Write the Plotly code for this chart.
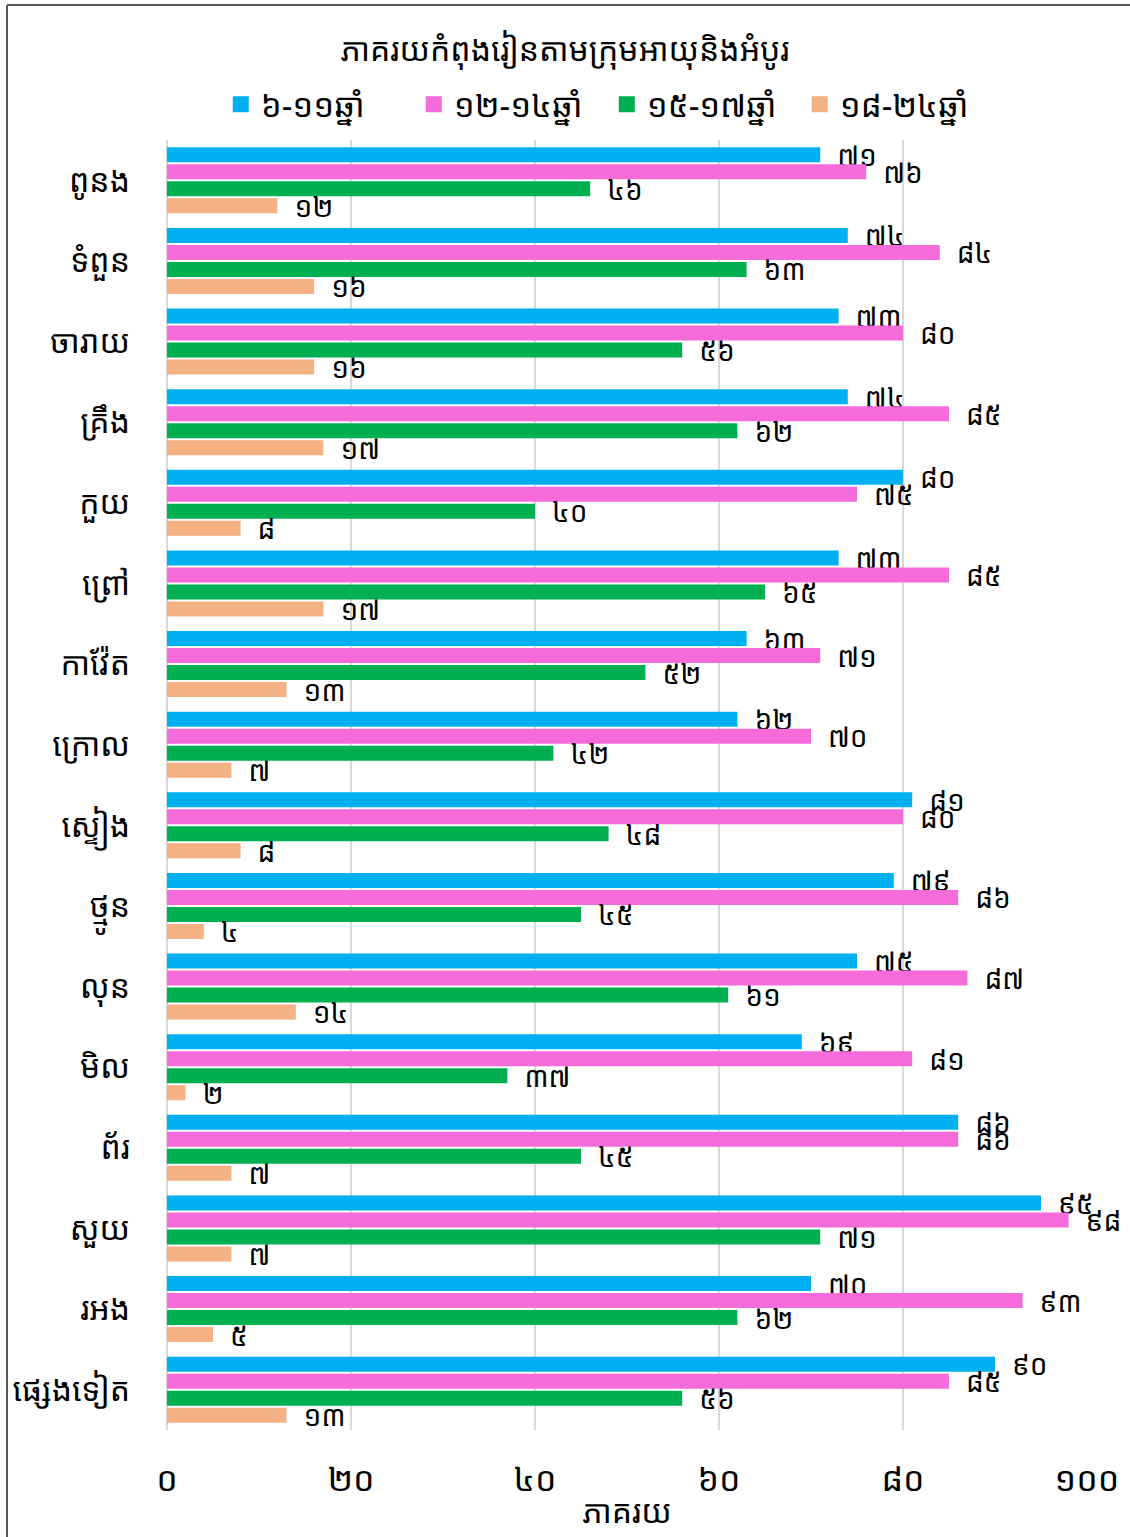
import plotly.graph_objects as go

categories = ["ពូនង", "ទំពួន", "ចារាយ", "គ្រឹង", "កួយ", "ព្រៅ", "កាវ៉ែត", "ក្រោល",
              "ស្ទៀង", "ថ្មូន", "លុន", "មិល", "ព័រ", "សួយ", "រអង", "ផ្សេងទៀត"]
series_names = ["៦-១១ឆ្នាំ", "១២-១៤ឆ្នាំ", "១៥-១៧ឆ្នាំ", "១៨-២៤ឆ្នាំ"]
age_6_11 = [71, 74, 73, 74, 80, 73, 63, 62, 81, 79, 75, 69, 86, 95, 70, 90]
age_12_14 = [76, 84, 80, 85, 75, 85, 71, 70, 80, 86, 87, 81, 86, 98, 93, 85]
age_15_17 = [46, 63, 56, 62, 40, 65, 52, 42, 48, 45, 61, 37, 45, 71, 62, 56]
age_18_24 = [12, 16, 16, 17, 8, 17, 13, 7, 8, 4, 14, 2, 7, 7, 5, 13]
colors = ["#00B0F0", "#F46BD9", "#00B050", "#F4B183"]
tick_vals = [0, 20, 40, 60, 80, 100]

KH = str.maketrans("0123456789", "០១២៣៤៥៦៧៨៩")
def kh(v):
    return str(v).translate(KH)

FONT = "Noto Sans Khmer, Khmer OS System, Khmer OS, DejaVu Sans, sans-serif"

fig = go.Figure()
for name, vals, col in zip(series_names, [age_6_11, age_12_14, age_15_17, age_18_24], colors):
    fig.add_trace(go.Bar(
        y=categories, x=vals, name=name, orientation="h", showlegend=False,
        marker=dict(color=col, line=dict(width=0)),
        text=["\u2002" + kh(v) for v in vals], textposition="outside",
        textfont=dict(size=28, color="#000000", family=FONT),
        constraintext="none", cliponaxis=False,
    ))
# legend entries with square symbols
for name, col in zip(series_names, colors):
    fig.add_trace(go.Scatter(
        x=[None], y=[None], mode="markers", name=name,
        marker=dict(symbol="square", size=22, color=col),
    ))

fig.update_layout(
    width=1130, height=1537,
    paper_bgcolor="white", plot_bgcolor="white",
    margin=dict(l=167, r=43, t=140, b=107),
    barmode="group", bargap=0.155, bargroupgap=0.12,
    font=dict(family=FONT, color="#000000"),
    title=dict(text="ភាគរយកំពុងរៀនតាមក្រុមអាយុនិងអំបូរ", x=0.5, xanchor="center",
               y=1 - 50 / 1537, yanchor="middle", font=dict(size=32, family=FONT)),
    legend=dict(orientation="h", x=0.478, xanchor="center", y=1.006, yanchor="bottom",
                font=dict(size=33, family=FONT), traceorder="normal",
                itemwidth=30, tracegroupgap=0, entrywidth=148, entrywidthmode="pixels"),
    xaxis=dict(range=[0, 100], tickvals=tick_vals, ticktext=[kh(t) for t in tick_vals],
               showgrid=True, gridcolor="#D9D9D9", gridwidth=1.5, zeroline=True,
               zerolinecolor="#D9D9D9", zerolinewidth=1.5, showline=False,
               tickfont=dict(size=34, family=FONT), ticks="", ticklabelstandoff=26,
               automargin=False,
               title=dict(text="ភាគរយ", font=dict(size=32, family=FONT), standoff=0)),
    yaxis=dict(autorange="reversed", tickfont=dict(size=32, family=FONT),
               showgrid=False, ticks="", ticklabelstandoff=36, showline=False,
               automargin=False),
    shapes=[
        dict(type="line", xref="paper", yref="paper", x0=-160/920, x1=1.1, y0=1 + 135/1290, y1=1 + 135/1290,
             line=dict(color="#595959", width=2)),
        dict(type="line", xref="paper", yref="paper", x0=-160/920, x1=-160/920, y0=-0.1, y1=1 + 135/1290,
             line=dict(color="#595959", width=2)),
    ],
)

fig.write_html("out.html", config={"displayModeBar": False},
               post_script="document.body.style.margin='0px';document.body.style.padding='0px';")
